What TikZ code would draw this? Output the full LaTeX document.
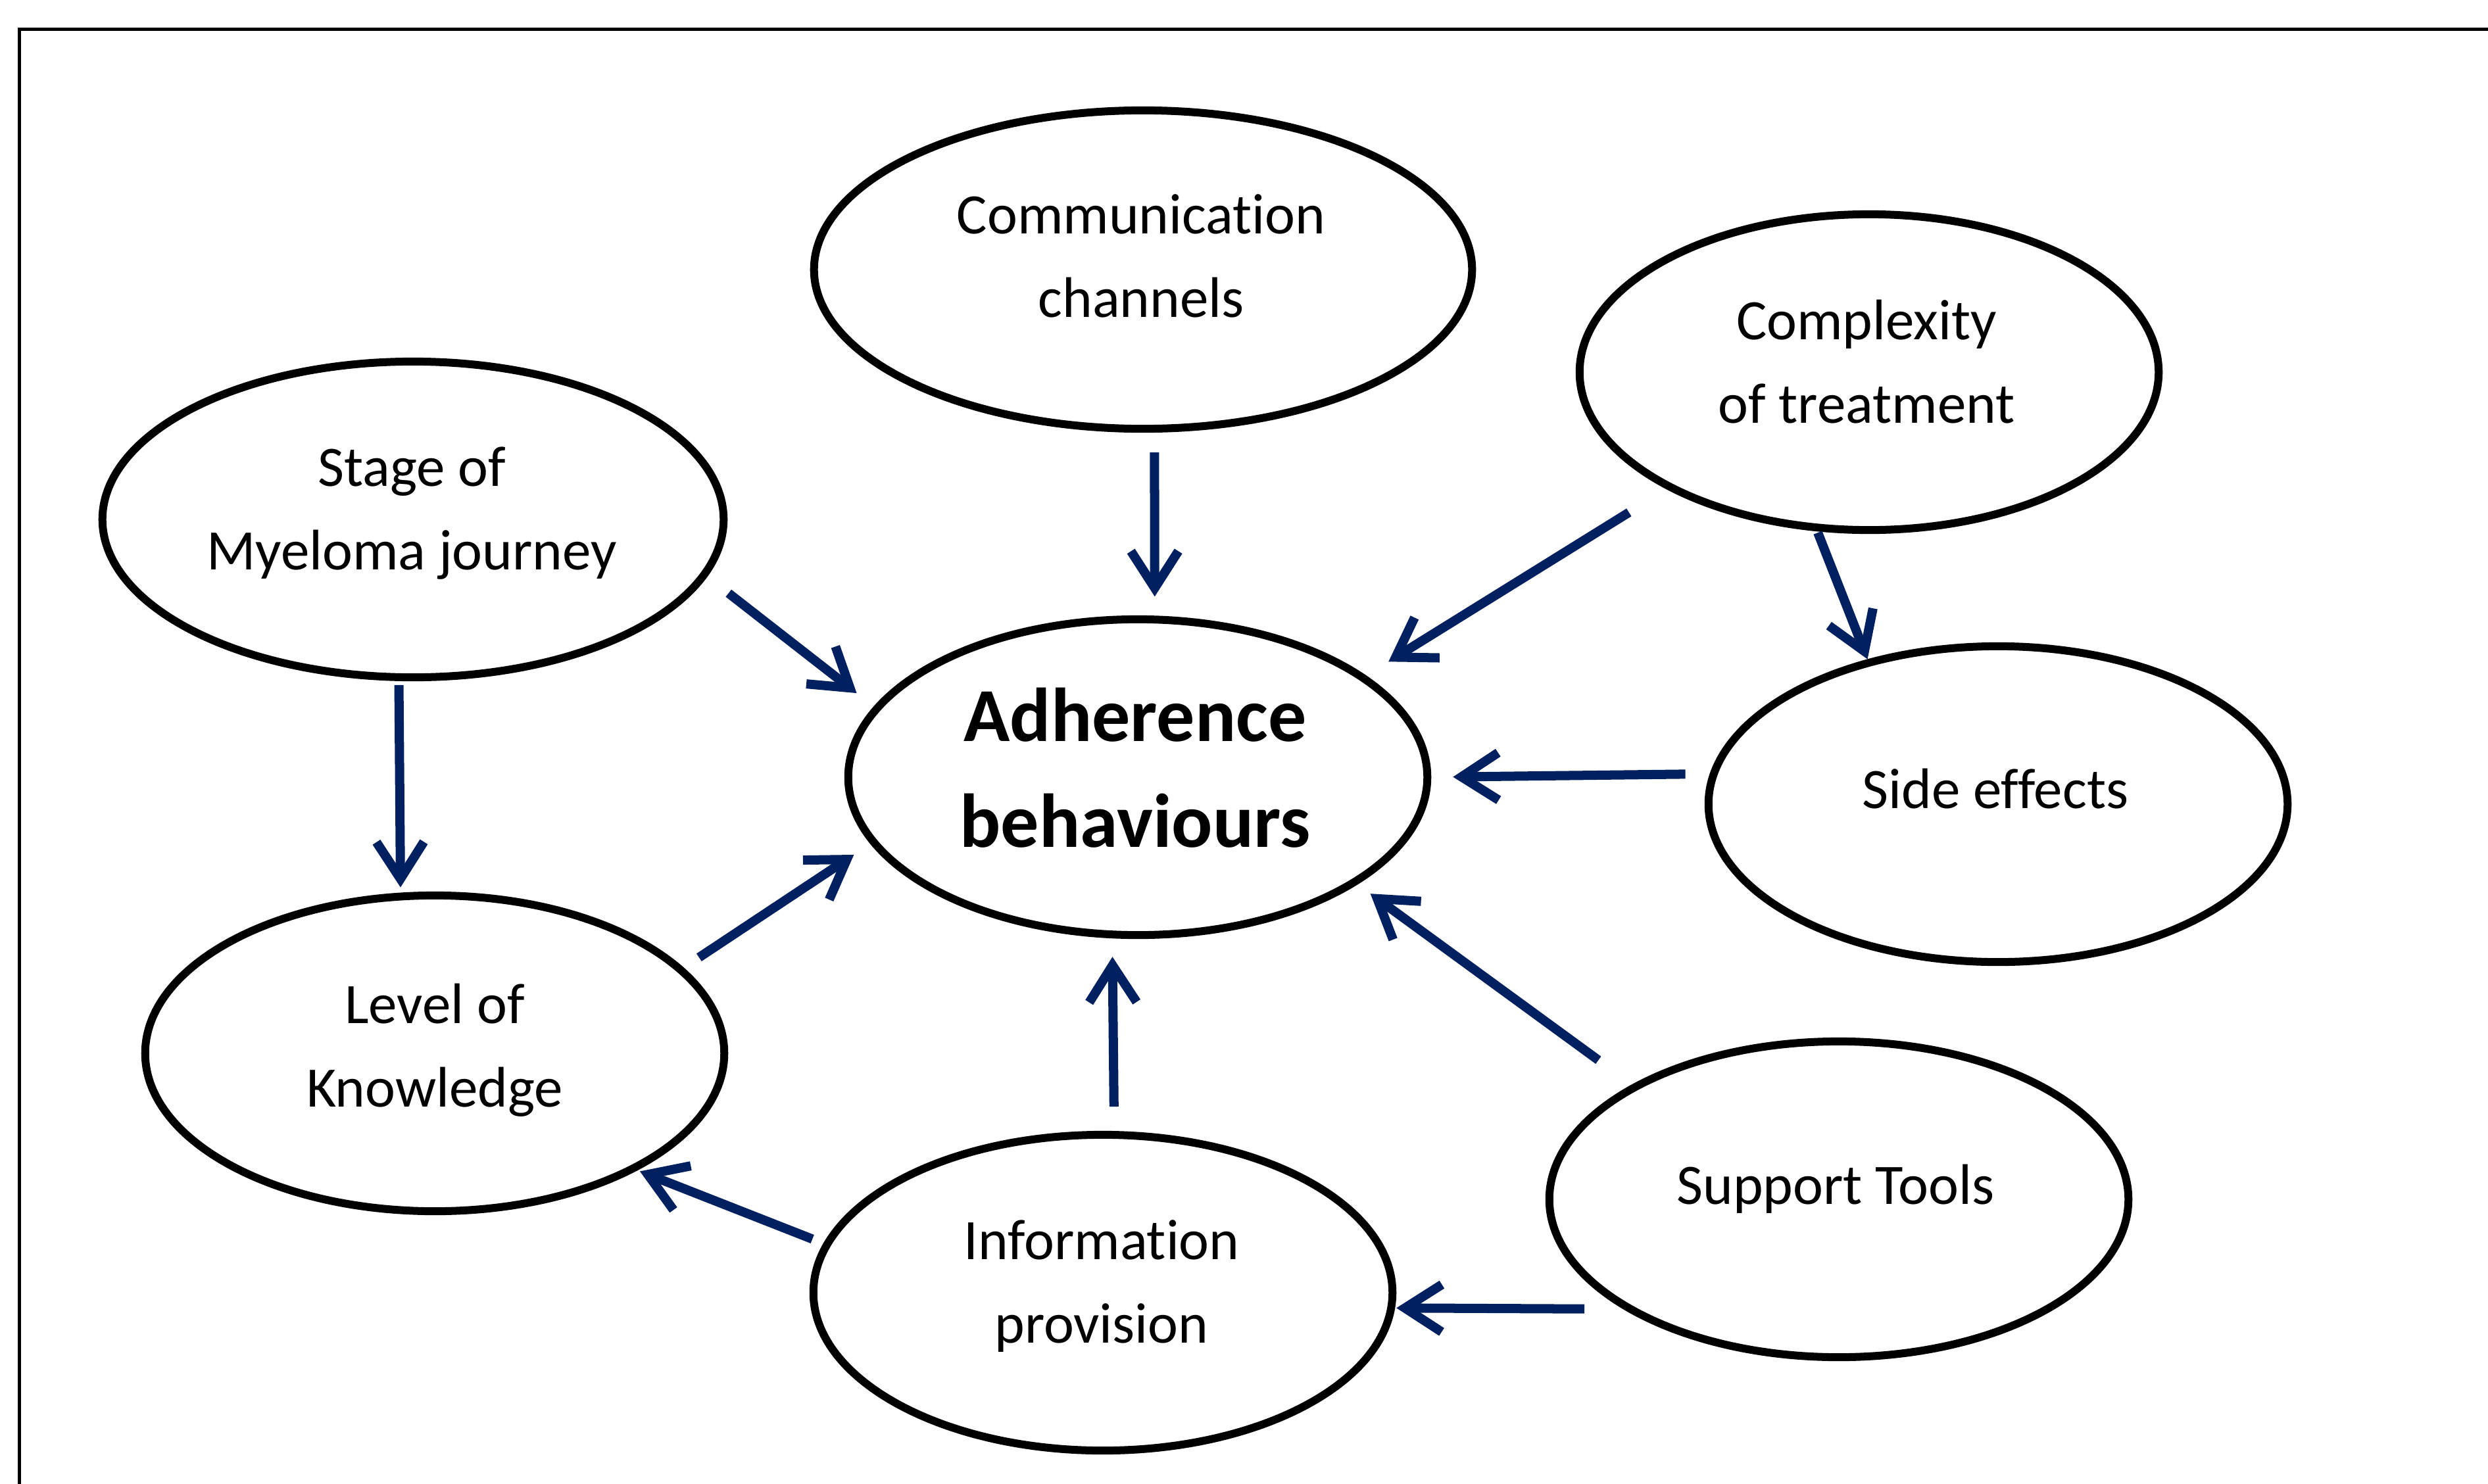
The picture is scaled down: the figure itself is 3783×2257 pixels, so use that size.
\documentclass[tikz,border=0pt]{standalone}
\usepackage{fontspec}
\setmainfont{Carlito}[Ligatures=NoCommon]
\usetikzlibrary{shapes.geometric,arrows.meta}
\definecolor{navy}{RGB}{0,32,96}
% two centred lines whose reference point is the first baseline
\newcommand\twolines[2]{\vtop{\halign{\hfil##\hfil\cr#1\cr#2\cr}}}
\begin{document}
\begin{tikzpicture}[x=0.01cm,y=-0.01cm,
  bubble/.style={ellipse, draw=black, line width=0.12cm, fill=white,
    minimum width=8.8cm, minimum height=4.8cm, inner sep=0pt},
  caption/.style={anchor=base, inner sep=0pt,
    font=\fontsize{24.75pt}{36.13pt}\selectfont},
  core/.style={anchor=base, inner sep=0pt,
    font=\bfseries\fontsize{33pt}{45.8pt}\selectfont},
  link/.style={draw=navy, line width=0.14cm,
    -{Straight Barb[sharp,length=0.56cm,width=0.72cm]}},
]
\useasboundingbox (0,0) rectangle (3783,2257);
\fill[white] (0,0) rectangle (3783,2257);

% outer frame (only the left and top edges fall inside the page)
\draw[line width=0.05cm, line join=miter] (29.5,2257) -- (29.5,44.5) -- (3783,44.5);

% factor ellipses
\node[bubble, minimum width=10cm, minimum height=4.84cm] (comm) at (1738,410) {};
\node[bubble, minimum width=9.44cm] (stage) at (628,790) {};
\node[bubble] (cplx)  at (2842,566) {};
\node[bubble] (side)  at (3038,1223) {};
\node[bubble] (adh)   at (1730,1182) {};
\node[bubble] (level) at (661,1602) {};
\node[bubble] (info)  at (1677,1966) {};
\node[bubble] (supp)  at (2796,1824) {};

% labels
\node[caption] (comm-t)  at (1735,355)  {\twolines{Communication}{channels}};
\node[caption] (stage-t) at (626,739)   {\twolines{Stage of}{Myeloma journey}};
\node[caption] (cplx-t)  at (2838,516)  {\twolines{Complexity}{of treatment}};
\node[caption] (side-t)  at (3034,1229) {Side effects};
\node[core]    (adh-t)   at (1726,1127) {\twolines{Adherence}{behaviours}};
\node[caption] (level-t) at (661,1556)  {\twolines{Level of}{Knowledge}};
\node[caption] (info-t)  at (1675,1915) {\twolines{Information}{provision}};
\node[caption] (supp-t)  at (2791,1831) {Support Tools};

% influences
\draw[link, shorten <=0.30cm, shorten >=0.29cm] (comm.-86.8)   -- (adh.84.9);
\draw[link, shorten <=0.67cm, shorten >=0.40cm] (cplx.210.2)   -- (adh.24.8);
\draw[link, shorten <=0.02cm]                   (cplx.252.5)   -- (side.132.6);
\draw[link, shorten <=0.37cm, shorten >=0.33cm] (side.174.4)   -- (adh.0.3);
\draw[link, shorten <=0.63cm, shorten >=0.24cm] (supp.151.9)   -- (adh.-26.7);
\draw[link, shorten <=0.59cm, shorten >=0.02cm] (supp.-153.9)  -- (info.-3.5);
\draw[link, shorten <=0.37cm, shorten >=0.28cm] (info.86.7)    -- (adh.-99.0);
\draw[link, shorten <=0.18cm, shorten >=0.04cm] (info.170.4)   -- (level.-30.5);
\draw[link, shorten <=0.28cm, shorten >=0.30cm] (level.19.2)   -- (adh.-166.5);
\draw[link, shorten <=0.41cm, shorten >=0.33cm] (stage.-11.9)  -- (adh.165.3);
\draw[link, shorten <=0.06cm, shorten >=0.08cm] (stage.-95.4)  -- (level.102.9);
\end{tikzpicture}
\end{document}
